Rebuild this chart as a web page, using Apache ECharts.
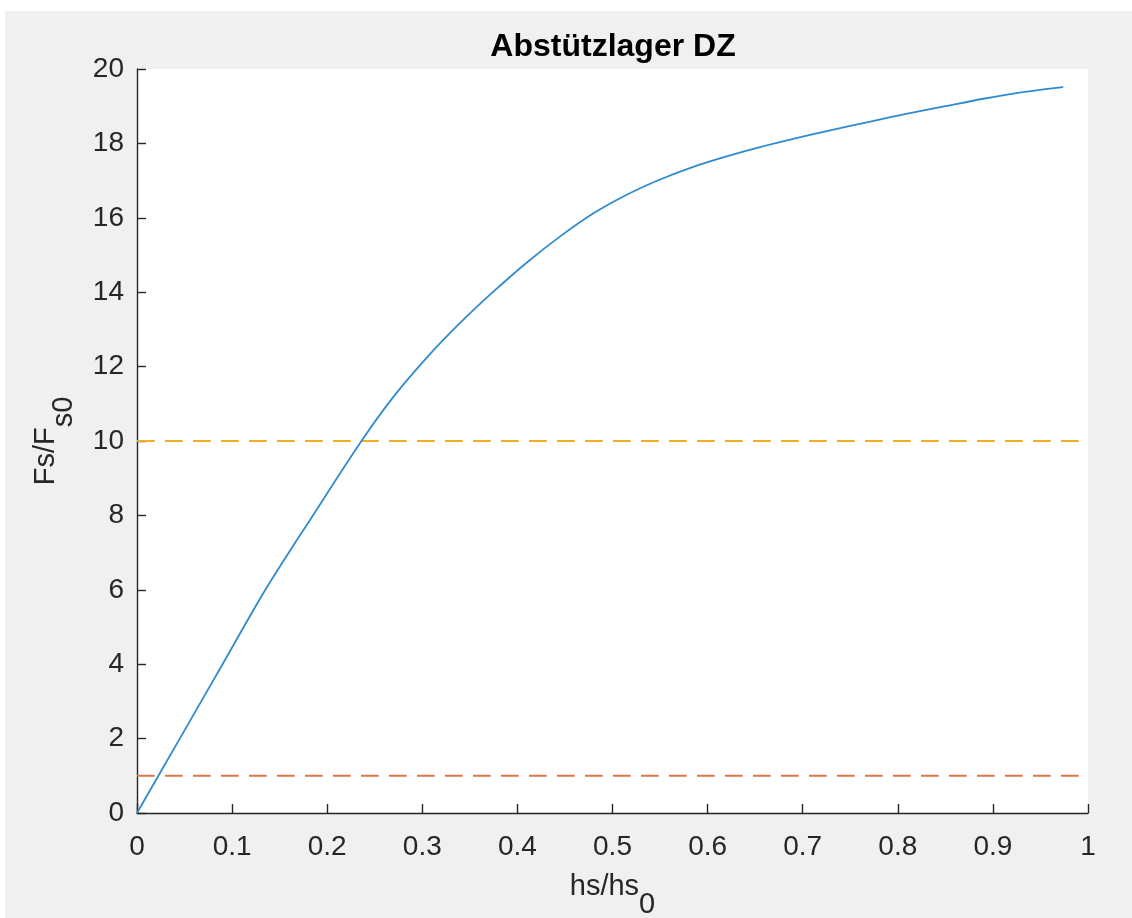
<!DOCTYPE html>
<html>
<head>
<meta charset="utf-8">
<script src="https://cdn.jsdelivr.net/npm/echarts@6/dist/echarts.min.js"></script>
<style>
  html, body { margin: 0; padding: 0; background: #ffffff; }
  #chart { position: absolute; left: 5px; top: 11px; width: 1127px; height: 907px; }
</style>
</head>
<body>
<div id="chart"></div>
<script>
// Support bearing curve: relative force over relative stroke
const hsRatio = [0, 0.045, 0.09, 0.135, 0.185, 0.236, 0.27, 0.305, 0.34, 0.375, 0.41, 0.445, 0.48, 0.515, 0.55, 0.585, 0.62, 0.655, 0.69, 0.73, 0.77, 0.81, 0.85, 0.89, 0.93, 0.974];
const fsRatio = [0, 2, 4, 6, 8, 10, 11.2, 12.25, 13.18, 14.02, 14.8, 15.5, 16.12, 16.62, 17.03, 17.37, 17.65, 17.9, 18.12, 18.36, 18.58, 18.8, 19.0, 19.2, 19.37, 19.51];

// Horizontal reference levels and the x span they cover
const refLevels = [10, 1];
const refSpan = [0, 1];

const xTicks = { min: 0, max: 1, step: 0.1 };
const yTicks = { min: 0, max: 20, step: 2 };

const axisColor = '#262626';
const font = 'Liberation Sans, Arial, Helvetica, sans-serif';

const chart = echarts.init(document.getElementById('chart'));

const curveData = hsRatio.map((x, i) => [x, fsRatio[i]]);
const refColors = ['#EDB120', '#e07548'];

const refSeries = refLevels.map((lvl, i) => ({
  type: 'line',
  data: refSpan.map(x => [x, lvl]),
  showSymbol: false,
  silent: true,
  lineStyle: { color: refColors[i], width: 2, type: [17.7, 10.3] },
  z: 2
}));

const option = {
  backgroundColor: '#f0f0f0',
  animation: false,
  title: {
    text: 'Abstützlager DZ',
    left: 603,
    textAlign: 'center',
    top: 15,
    textStyle: { fontFamily: font, fontSize: 32, fontWeight: 'bold', color: '#000000' }
  },
  grid: {
    left: 132, top: 58, width: 951, height: 744,
    containLabel: false,
    outerBoundsMode: 'none',
    show: true, backgroundColor: '#ffffff', borderWidth: 0
  },
  xAxis: {
    type: 'value',
    min: xTicks.min, max: xTicks.max, interval: xTicks.step,
    name: '{a|hs/hs}{b|0}',
    nameLocation: 'middle',
    nameGap: 41,
    nameTextStyle: {
      rich: {
        a: { fontFamily: font, fontSize: 29, color: axisColor },
        b: { fontFamily: font, fontSize: 29, color: axisColor, padding: [36, 0, 0, 0] }
      }
    },
    axisLine: { onZero: false, lineStyle: { color: axisColor, width: 1.4 } },
    axisTick: { inside: true, length: 9, lineStyle: { color: axisColor, width: 1.4 } },
    axisLabel: { margin: 20, fontFamily: font, fontSize: 28, color: axisColor },
    splitLine: { show: false }
  },
  yAxis: {
    type: 'value',
    min: yTicks.min, max: yTicks.max, interval: yTicks.step,
    name: '{a|Fs/F}{b|s0}',
    nameLocation: 'middle',
    nameGap: 59,
    nameTextStyle: {
      rich: {
        a: { fontFamily: font, fontSize: 29, color: axisColor },
        b: { fontFamily: font, fontSize: 29, color: axisColor, padding: [36, 0, 0, 0] }
      }
    },
    axisLine: { show: true, lineStyle: { color: axisColor, width: 1.4 } },
    axisTick: { show: true, inside: true, length: 9, lineStyle: { color: axisColor, width: 1.4 } },
    axisLabel: { margin: 13, fontFamily: font, fontSize: 28, color: axisColor },
    splitLine: { show: false }
  },
  series: [
    {
      type: 'line',
      data: curveData,
      showSymbol: false,
      smooth: 0.3,
      lineStyle: { color: '#2f8bd0', width: 1.8 },
      z: 3
    },
    ...refSeries
  ]
};

chart.setOption(option);
</script>
</body>
</html>
